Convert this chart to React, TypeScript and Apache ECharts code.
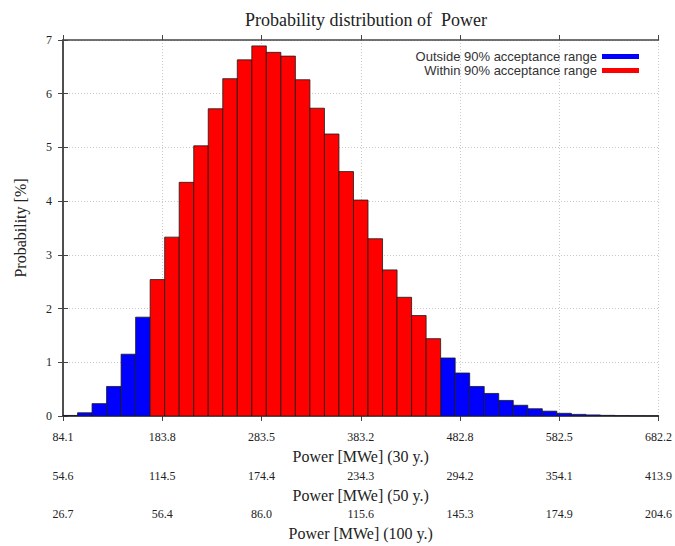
import React, { useEffect, useRef } from "react";
import * as echarts from "echarts";

// Histogram values [%] per bin (41 equal bins spanning 84.1 .. 682.2 MWe)
const lowerTail = [0.01, 0.06, 0.23, 0.55, 1.15, 1.84];
const within = [2.54, 3.33, 4.35, 5.03, 5.72, 6.28, 6.63, 6.89, 6.77, 6.7, 6.26, 5.73, 5.25, 4.55, 4.02, 3.3, 2.72, 2.21, 1.87, 1.44];
const upperTail = [1.08, 0.8, 0.55, 0.42, 0.29, 0.2, 0.135, 0.09, 0.05, 0.03, 0.02, 0.012, 0.006, 0.003, 0.002];

// Tick labels of the three power scales
const labels30 = ["84.1", "183.8", "283.5", "383.2", "482.8", "582.5", "682.2"];
const labels50 = ["54.6", "114.5", "174.4", "234.3", "294.2", "354.1", "413.9"];
const labels100 = ["26.7", "56.4", "86.0", "115.6", "145.3", "174.9", "204.6"];

const seriesOutside = "Outside 90% acceptance range";
const seriesWithin = "Within 90% acceptance range";

const SERIF = "'Liberation Serif', 'DejaVu Serif', serif";
const SANS = "'Liberation Sans', Arial, sans-serif";

export default function App() {
  const ref = useRef<HTMLDivElement>(null);

  useEffect(() => {
    if (!ref.current) return;
    const chart = echarts.init(ref.current, null, { renderer: "svg" });

    const nBins = lowerTail.length + within.length + upperTail.length;
    const span = labels30.length - 1; // axis units: one per labelled tick
    const bw = span / nBins;
    const toData = (vals: number[], offset: number) =>
      vals.map((v, i) => [(offset + i) * bw, (offset + i + 1) * bw, v]);

    const outsideData = [
      ...toData(lowerTail, 0),
      ...toData(upperTail, lowerTail.length + within.length),
    ];
    const withinData = toData(within, lowerTail.length);

    const renderBar = (color: string) => (params: any, api: any) => {
      const p0 = api.coord([api.value(0), api.value(2)]);
      const p1 = api.coord([api.value(1), 0]);
      return {
        type: "rect",
        shape: { x: p0[0], y: p0[1], width: p1[0] - p0[0], height: p1[1] - p0[1] },
        style: { fill: color, stroke: "#1a1a1a", lineWidth: 0.8 },
      };
    };

    const frameLine = { show: true, lineStyle: { color: "#444", width: 1.5 } };
    const tick = { show: true, length: 5, inside: false, lineStyle: { color: "#444", width: 1 } };
    const gridLine = { show: true, lineStyle: { color: "#c8c8c8", width: 1, type: [1, 2] as any } };
    const labelStyle = { fontFamily: SERIF, fontSize: 12, color: "#222" };
    const nameStyle = { fontFamily: SERIF, fontSize: 16, color: "#222" };

    const bottomAxis = (labels: string[], offset: number, name: string, main: boolean) => ({
      type: "value",
      position: "bottom",
      offset,
      min: 0,
      max: span,
      interval: 1,
      name,
      nameLocation: "middle",
      nameGap: 32,
      nameTextStyle: nameStyle,
      axisLine: main ? frameLine : { show: false },
      axisTick: main ? tick : { show: false },
      splitLine: main ? gridLine : { show: false },
      axisLabel: {
        ...labelStyle,
        margin: 15,
        showMinLabel: true,
        showMaxLabel: true,
        formatter: (v: number) => labels[Math.round(v)] ?? "",
      },
    });

    chart.setOption({
      animation: false,
      backgroundColor: "#ffffff",
      title: {
        text: "Probability distribution of  Power",
        left: 361,
        top: 6,
        textAlign: "center",
        textStyle: { fontFamily: SERIF, fontSize: 18, fontWeight: "normal", color: "#222" },
      },
      legend: {
        orient: "vertical",
        right: 31,
        top: 45,
        align: "right",
        itemWidth: 37,
        itemHeight: 5,
        itemGap: 1,
        textStyle: { fontFamily: SANS, fontSize: 13, color: "#333", lineHeight: 12 },
        data: [
          { name: seriesOutside, icon: "rect" },
          { name: seriesWithin, icon: "rect" },
        ],
      },
      grid: { left: 63, right: 15, top: 40, bottom: 126, containLabel: false },
      xAxis: [
        bottomAxis(labels30, 0, "Power [MWe] (30 y.)", true),
        bottomAxis(labels50, 39, "Power [MWe] (50 y.)", false),
        bottomAxis(labels100, 77, "Power [MWe] (100 y.)", false),
        {
          type: "value",
          position: "top",
          min: 0,
          max: span,
          interval: 1,
          axisLine: frameLine,
          axisTick: tick,
          axisLabel: { show: false },
          splitLine: { show: false },
        },
      ],
      yAxis: [
        {
          type: "value",
          position: "left",
          min: 0,
          max: 7,
          interval: 1,
          name: "Probability [%]",
          nameLocation: "middle",
          nameGap: 35,
          nameTextStyle: nameStyle,
          axisLine: frameLine,
          axisTick: tick,
          splitLine: gridLine,
          axisLabel: { ...labelStyle, margin: 11 },
        },
        {
          type: "value",
          position: "right",
          min: 0,
          max: 7,
          interval: 1,
          axisLine: frameLine,
          axisTick: tick,
          axisLabel: { show: false },
          splitLine: { show: false },
        },
      ],
      series: [
        {
          name: seriesOutside,
          type: "custom",
          xAxisIndex: 0,
          yAxisIndex: 0,
          itemStyle: { color: "#0000ff" },
          encode: { x: [0, 1], y: 2 },
          renderItem: renderBar("#0000ff"),
          data: outsideData,
        },
        {
          name: seriesWithin,
          type: "custom",
          xAxisIndex: 0,
          yAxisIndex: 0,
          itemStyle: { color: "#ff0000" },
          encode: { x: [0, 1], y: 2 },
          renderItem: renderBar("#ff0000"),
          data: withinData,
        },
      ],
    });

    return () => chart.dispose();
  }, []);

  return (
    <div
      ref={ref}
      style={{ position: "absolute", left: 0, top: 0, width: 675, height: 546 }}
    />
  );
}
